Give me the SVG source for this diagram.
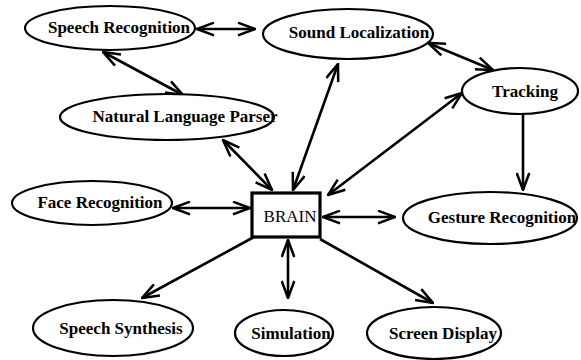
<svg xmlns="http://www.w3.org/2000/svg" width="581" height="360" viewBox="0 0 581 360">
<defs>
<style>
.n ellipse{fill:#fff;stroke:#000;stroke-width:2.2}
.n text{font-family:"Liberation Serif","Times New Roman",serif;font-weight:bold;font-size:17px;text-anchor:middle;fill:#000}
#c line{stroke:#000;stroke-width:2.6;fill:none}
</style>
<marker id="ah" viewBox="0 0 19 15" refX="18" refY="7.5" markerWidth="19" markerHeight="15" markerUnits="userSpaceOnUse" orient="auto-start-reverse">
<path d="M1,1.2 L18,7.5 L1,13.8" fill="none" stroke="#000" stroke-width="2.5"/>
</marker>
</defs>
<rect width="581" height="360" fill="#fff"/>
<g id="c">
<line x1="197" y1="29" x2="255" y2="29" marker-start="url(#ah)" marker-end="url(#ah)"/>
<line x1="103" y1="52" x2="183" y2="95" marker-start="url(#ah)" marker-end="url(#ah)"/>
<line x1="223" y1="140" x2="272" y2="190" marker-start="url(#ah)" marker-end="url(#ah)"/>
<line x1="338" y1="64" x2="293" y2="190" marker-start="url(#ah)" marker-end="url(#ah)"/>
<line x1="428" y1="43" x2="493" y2="70" marker-start="url(#ah)" marker-end="url(#ah)"/>
<line x1="328" y1="195" x2="462" y2="93" marker-start="url(#ah)" marker-end="url(#ah)"/>
<line x1="523" y1="113" x2="523" y2="190" marker-end="url(#ah)"/>
<line x1="323" y1="217" x2="395" y2="217" marker-start="url(#ah)" marker-end="url(#ah)"/>
<line x1="173" y1="208" x2="250" y2="208" marker-start="url(#ah)" marker-end="url(#ah)"/>
<line x1="254" y1="237" x2="142" y2="298" marker-end="url(#ah)"/>
<line x1="288" y1="240" x2="288" y2="298" marker-start="url(#ah)" marker-end="url(#ah)"/>
<line x1="320" y1="239" x2="433" y2="303" marker-end="url(#ah)"/>
</g>
<g id="speech-recognition" class="n"><ellipse cx="110" cy="28" rx="85" ry="22"/><text x="119" y="33">Speech Recognition</text></g>
<g id="sound-localization" class="n"><ellipse cx="348" cy="34" rx="85" ry="25"/><text x="359" y="38">Sound Localization</text></g>
<g id="natural-language-parser" class="n"><ellipse cx="167" cy="117" rx="107" ry="23"/><text x="185" y="122">Natural Language Parser</text></g>
<g id="tracking" class="n"><ellipse cx="520" cy="91" rx="58" ry="23"/><text x="525" y="97">Tracking</text></g>
<g id="face-recognition" class="n"><ellipse cx="92" cy="203" rx="80" ry="22"/><text x="100" y="208">Face Recognition</text></g>
<g id="brain"><rect x="252" y="193" width="68" height="44" fill="#fff" stroke="#000" stroke-width="3.2"/><text x="290" y="222" font-family="Liberation Serif,'Times New Roman',serif" font-size="17" text-anchor="middle">BRAIN</text></g>
<g id="gesture-recognition" class="n"><ellipse cx="490" cy="218" rx="87" ry="26"/><text x="502" y="223">Gesture Recognition</text></g>
<g id="speech-synthesis" class="n"><ellipse cx="113" cy="328" rx="80" ry="28"/><text x="121" y="334">Speech Synthesis</text></g>
<g id="simulation" class="n"><ellipse cx="284" cy="333" rx="49" ry="23"/><text x="291" y="339">Simulation</text></g>
<g id="screen-display" class="n"><ellipse cx="434" cy="333" rx="67" ry="26"/><text x="443" y="339">Screen Display</text></g>
</svg>
